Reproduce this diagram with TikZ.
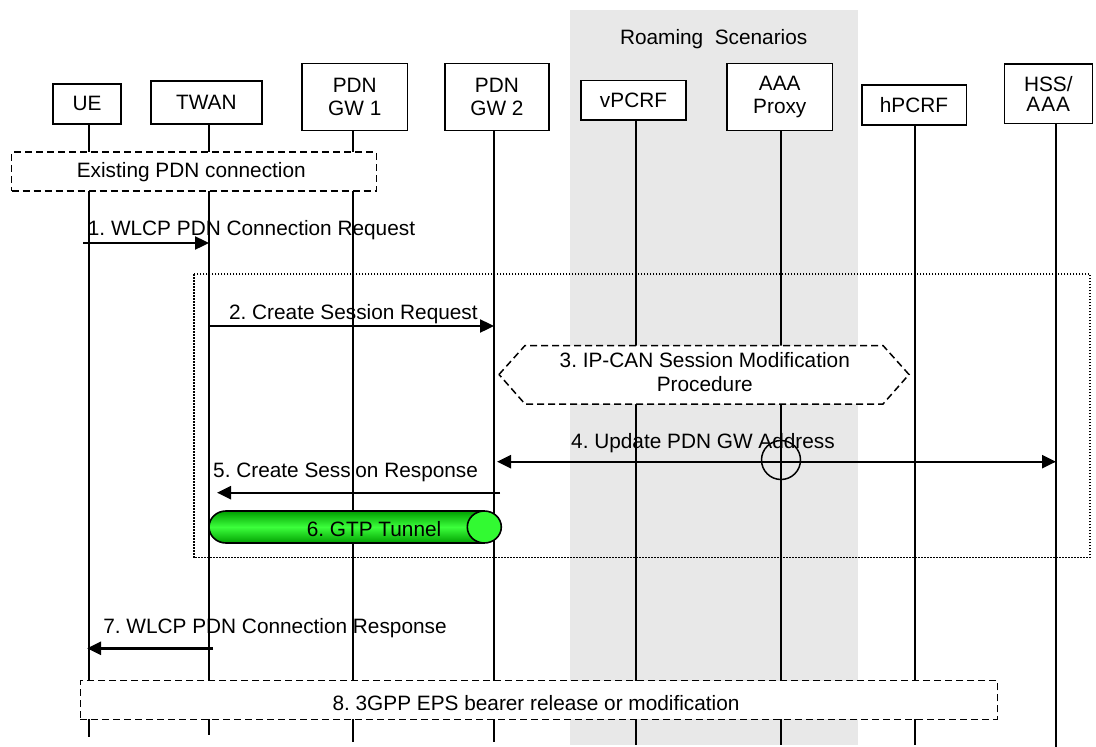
\documentclass[tikz,border=0pt]{standalone}
\usepackage{fontspec}
\setmainfont{Liberation Sans}
\usetikzlibrary{arrows.meta,calc,shapes.geometric}
\definecolor{band}{RGB}{232,232,232}
\definecolor{tdark}{RGB}{0,160,0}
\definecolor{tlight}{RGB}{60,255,60}
\definecolor{tcap}{RGB}{50,250,50}
\frenchspacing
\begin{document}
\frenchspacing
\begin{tikzpicture}[x=1pt,y=-1pt,
  every node/.style={font=\frenchspacing\fontsize{20.8}{23}\selectfont},
  box/.style={draw, line width=1.6pt, fill=white, inner sep=0pt, align=center},
  life/.style={line width=1.6pt},
  msg/.style={line width=2.4pt, -{Triangle[length=14pt,width=13pt]}},
  dmsg/.style={line width=2.4pt, {Triangle[length=14pt,width=13pt]}-{Triangle[length=14pt,width=13pt]}},
  grp/.style={draw, line width=1.5pt, dash pattern=on 7pt off 4pt, fill=white, inner sep=0pt},
  lbl/.style={inner sep=0pt, text height=15pt, text depth=0pt},
]
\useasboundingbox (0,0) rectangle (1096,747);
\fill[white] (0,0) rectangle (1096,747);
% roaming band
\fill[band] (569.5,10) rectangle (857.5,745);
\node[lbl] (roam) at (713.7,37) {Roaming\ \ Scenarios};

% header boxes
\node[box, minimum width=68pt, minimum height=40.3pt] (ue) at (87,103.9) {UE};
\node[box, minimum width=111pt, minimum height=43pt] (tw) at (206.4,102.5) {TWAN};
\node[box, minimum width=105.6pt, minimum height=67pt] (gwa) at (354.8,96.8) {PDN\\GW 1};
\node[box, minimum width=104.2pt, minimum height=67pt] (gwb) at (496.9,96.8) {PDN\\GW 2};
\node[box, minimum width=105pt, minimum height=39.7pt] (vp) at (633.5,100.2) {vPCRF};
\node[box, minimum width=105.6pt, minimum height=67pt] (aaa) at (779.8,96.8) {AAA\\Proxy};
\node[box, minimum width=104.6pt, minimum height=40pt] (hp) at (914,105) {hPCRF};
\node[box, minimum width=88pt, minimum height=59.3pt, font=\fontsize{20.8}{20}\selectfont] (hss) at (1048.3,93.7) {HSS/\\A\kern1pt A\kern1pt A};

% lifeline ends
\coordinate (Lue) at (89,737);
\coordinate (Ltw) at (209,735);
\coordinate (Lgwa) at (353,742);
\coordinate (Lgwb) at (494,742);
\coordinate (Lvp) at (636,745);
\coordinate (Laaa) at (781,745);
\coordinate (Lhp) at (915,745);
\coordinate (Lhss) at (1056,747);
\foreach \b/\l in {ue/Lue,tw/Ltw,gwa/Lgwa,gwb/Lgwb,vp/Lvp,aaa/Laaa,hp/Lhp,hss/Lhss}
  \draw[life] (\b.south -| \l) -- (\l);

% existing PDN connection
\node[grp, minimum width=364.8pt, minimum height=38.7pt] (exist) at (194,171.4) {};
\node[lbl] (existt) at (191.3,170) {Existing PDN connection};

% 1
\draw[msg] ($(Lue |- 0,243)+(-6,0)$) -- (Ltw |- 0,243);
\node[lbl] (m1) at (251.5,228.2) {1. WLCP PDN Connection Request};

% dotted frame
\draw[line width=1.5pt, dash pattern=on 1.5pt off 1.5pt] (194,274) rectangle (1090,557.7);

% 2
\draw[msg] (Ltw |- 0,326) -- (Lgwb |- 0,326);
\node[lbl] (m2) at (353.4,312) {2. Create Session Request};

% 3 hexagon
\filldraw[fill=white, line width=1.5pt, dash pattern=on 7pt off 4pt]
  (499,374.5) -- (525,345.5) -- (883,345.5) -- (909,374.5) -- (883,404) -- (525,404) -- cycle;
\node[align=center, inner sep=0pt] (m3) at (704.8,372) {3. IP-CAN Session Modification\\[1pt]Procedure};

% 4
\draw[dmsg] ($(Lgwb |- 0,461.7)+(3,0)$) -- (Lhss |- 0,461.7);
\node[lbl] (m4) at (703,441) {4. Update PDN GW Address};
\node[draw, circle, line width=1.5pt, minimum size=39pt, inner sep=0pt] (cross) at (Laaa |- 0,460) {};

% 5
\draw[msg] ($(Lgwb |- 0,492.7)+(6,0)$) -- ($(Ltw |- 0,492.7)+(8,0)$);
\node[lbl] (m5) at (345.6,470) {5. Create Session Response};

% 6 GTP tunnel
\path[top color=tdark, bottom color=tdark, middle color=tlight]
  (484.3,511) -- (226,511) arc[start angle=270, end angle=90, x radius=17, y radius=16] -- (484.3,543) -- cycle;
\draw[line width=1.6pt]
  (484.3,511) -- (226,511) arc[start angle=270, end angle=90, x radius=17, y radius=16] -- (484.3,543);
\node[draw, ellipse, fill=tcap, line width=1.6pt, minimum width=34pt, minimum height=32pt, inner sep=0pt] (cap) at (484.3,527) {};
\node[lbl] (m6) at (374,529) {6. GTP Tunnel};

% 7
\draw[msg] ($(Ltw |- 0,648.3)+(4,0)$) -- ($(Lue |- 0,648.3)+(-2,0)$);
\node[lbl] (m7) at (275,626) {7. WLCP PDN Connection Response};

% 8
\node[grp, minimum width=917pt, minimum height=38.6pt] (rel) at (538.9,700) {};
\node[lbl] (relt) at (536,702.7) {8. 3GPP EPS bearer release or modification};
\end{tikzpicture}
\end{document}
